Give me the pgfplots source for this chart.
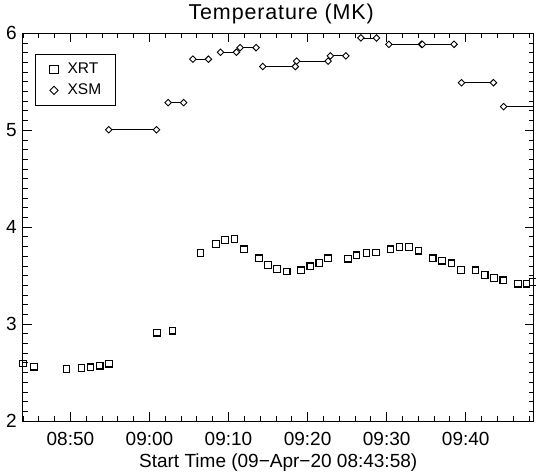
\documentclass[border=0pt]{standalone}
\usepackage{fontspec}
\setmainfont{Liberation Sans}
\newfontfamily\titlefont[LetterSpace=4]{Liberation Sans}
\usepackage{pgfplots}
\pgfplotsset{compat=1.18}
\begin{document}
\begin{tikzpicture}
\begin{axis}[
  name=ax,
  scale only axis, width=511pt, height=387.7pt,
  xmin=43.967, xmax=108.6, ymin=2, ymax=6,
  xtick={50,60,70,80,90,100},
  xticklabels={08:50,09:00,09:10,09:20,09:30,09:40},
  minor xtick={44,46,...,108},
  ytick={2,3,4,5,6},
  minor y tick num=9,
  tick align=inside,
  tick pos=both, xticklabel pos=lower, yticklabel pos=left,
  major tick length=9pt, minor tick length=5pt,
  tick style={black, line width=0.8pt},
  axis line style={black, line width=0.9pt},
  /pgf/number format/assume math mode=true,
  ticklabel style={font=\fontsize{19}{20}\selectfont},
  yticklabel style={anchor=east, inner sep=0pt, xshift=-5.7pt},
  xticklabel style={anchor=base, inner sep=0pt, yshift=-24.7pt},
  title={Temperature (MK)},
  title style={at={(0.5,1)}, anchor=base, yshift=8pt, xshift=3pt, inner sep=0pt, font=\titlefont\fontsize{21.5}{22}\selectfont},
  xlabel={Start Time (09−Apr−20 08:43:58)},
  xlabel style={at={(0.5,0)}, anchor=base, yshift=-46.7pt, inner sep=0pt, font=\fontsize{19}{20}\selectfont},
  unbounded coords=jump,
  legend style={at={(0,1)}, anchor=north west, xshift=12.6pt, yshift=-20.7pt,
    draw=black, fill=white, font=\fontsize{15.5}{16}\selectfont,
    inner xsep=14.2pt, inner ysep=4.5pt, row sep=0pt,
    nodes={inner sep=0pt, text height=15pt, text depth=6pt}},
  every axis legend/.append style={line width=0.8pt},
  legend cell align=left,
  legend image code/.code={\draw[#1, every mark/.append style={scale=1.25}] plot coordinates {(0pt,0pt)};},
]
% XRT
\addplot[only marks, mark=square, mark size=3.3pt, mark options={line width=1.1pt, black}] table {
x y
44.00 2.593
45.42 2.560
49.49 2.537
51.39 2.547
52.56 2.554
53.70 2.571
54.89 2.591
60.95 2.911
62.92 2.932
66.45 3.731
68.43 3.824
69.57 3.865
70.74 3.878
71.97 3.772
73.86 3.679
75.00 3.610
76.14 3.566
77.36 3.541
79.17 3.555
80.34 3.596
81.48 3.631
82.61 3.679
85.10 3.675
86.20 3.710
87.46 3.731
88.64 3.737
90.49 3.772
91.63 3.796
92.80 3.796
94.03 3.757
95.83 3.679
97.00 3.654
98.19 3.627
99.41 3.558
101.22 3.555
102.40 3.507
103.57 3.473
104.76 3.452
106.60 3.417
107.70 3.417
108.52 3.434
};
\addlegendentry{\hspace{9.5pt}XRT}
% XSM segments
\addplot[black, line width=0.9pt, no marks, forget plot] table {
x y
54.84 5.005
60.90 5.005
nan nan
62.37 5.285
64.31 5.285
nan nan
65.49 5.733
67.46 5.733
nan nan
68.98 5.805
71.00 5.805
nan nan
71.46 5.852
73.48 5.852
nan nan
74.33 5.657
78.45 5.657
nan nan
78.62 5.713
82.61 5.713
nan nan
82.87 5.767
84.85 5.767
nan nan
86.74 5.952
88.72 5.952
nan nan
90.28 5.886
94.41 5.886
nan nan
94.53 5.886
98.52 5.886
nan nan
99.46 5.490
103.50 5.490
nan nan
104.80 5.243
108.80 5.243
};
\addplot[only marks, mark=square*, mark size=2.3pt, mark options={rotate=45, fill=white, draw=black, line width=0.9pt}] table {
x y
54.84 5.005
60.90 5.005
62.37 5.285
64.31 5.285
65.49 5.733
67.46 5.733
68.98 5.805
71.00 5.805
71.46 5.852
73.48 5.852
74.33 5.657
78.45 5.657
78.62 5.713
82.61 5.713
82.87 5.767
84.85 5.767
86.74 5.952
88.72 5.952
90.28 5.886
94.41 5.886
94.53 5.886
98.52 5.886
99.46 5.490
103.50 5.490
104.80 5.243
108.80 5.243
};
\addlegendentry{\hspace{9.5pt}XSM}
\end{axis}
\pgfresetboundingbox
\path ([shift={(-22.7pt,-51pt)}]ax.south west) rectangle ([shift={(513.3pt,421pt)}]ax.south west);
\end{tikzpicture}
\end{document}
